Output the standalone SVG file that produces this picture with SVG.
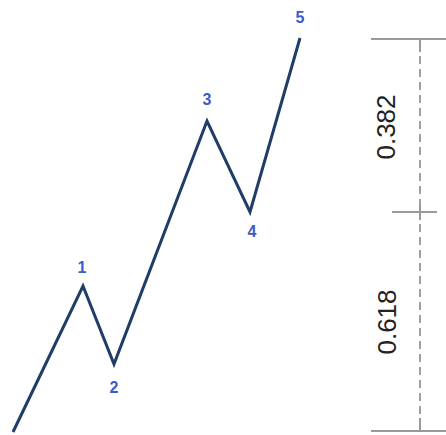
<svg xmlns="http://www.w3.org/2000/svg" width="446" height="435" viewBox="0 0 446 435">
<style>
.wave{fill:none;stroke:#1f3d66;stroke-width:3;stroke-linejoin:miter;stroke-linecap:butt}
.lbl{font-family:"Liberation Sans",Arial,sans-serif;font-weight:bold;font-size:16px;fill:#3a5cc8;text-anchor:middle}
.tick{stroke:#9a9a9a;stroke-width:2;fill:none}
.dash{stroke:#a0a0a0;stroke-width:2;stroke-dasharray:8 5;fill:none}
.ratio{font-family:"Liberation Sans",Arial,sans-serif;font-size:26px;fill:#222;text-anchor:middle}
</style>
<rect width="446" height="435" fill="#fff"/>
<g id="connectors">
<polyline class="wave" points="13,432 83,286 114,364 207,121 250,212 300,38"/>
</g>
<g id="p1"><text class="lbl" x="82" y="273">1</text></g>
<g id="p2"><text class="lbl" x="114" y="393">2</text></g>
<g id="p3"><text class="lbl" x="207" y="105">3</text></g>
<g id="p4"><text class="lbl" x="252" y="237">4</text></g>
<g id="p5"><text class="lbl" x="300" y="23">5</text></g>
<g id="scale">
<line class="tick" x1="371" y1="39" x2="446" y2="39"/>
<line class="tick" x1="392" y1="212" x2="437" y2="212"/>
<line class="tick" x1="371" y1="431" x2="446" y2="431"/>
<line class="tick" x1="420" y1="39" x2="420" y2="52"/>
<line class="dash" x1="420" y1="56" x2="420" y2="205"/>
<line class="tick" x1="420" y1="205" x2="420" y2="220"/>
<line class="dash" x1="420" y1="224" x2="420" y2="418"/>
<line class="tick" x1="420" y1="418" x2="420" y2="431"/>
<text class="ratio" transform="translate(395,127) rotate(-90)">0.382</text>
<text class="ratio" transform="translate(396,322) rotate(-90)">0.618</text>
</g>
</svg>
